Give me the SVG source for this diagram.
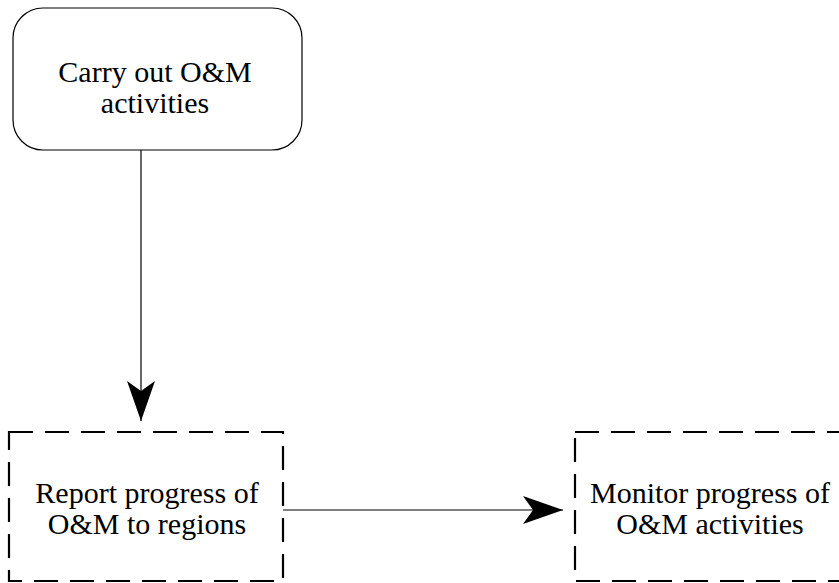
<svg xmlns="http://www.w3.org/2000/svg" width="839" height="583" viewBox="0 0 839 583">
  <style>
    .label { font-family: "Liberation Serif", "Times New Roman", serif; font-size: 30px; fill: #000; text-anchor: middle; }
    .solid { fill: #fff; stroke: #000; stroke-width: 1.2; }
    .dashed { fill: #fff; stroke: #000; stroke-width: 2.2; stroke-dasharray: 24 12; }
    .edge { fill: none; stroke: #000; stroke-width: 1.2; }
  </style>
  <defs>
    <marker id="arrow" markerUnits="userSpaceOnUse" markerWidth="42" markerHeight="30" refX="40" refY="14" orient="auto">
      <path d="M0,0 L40,14 L0,28 L10,14 Z" fill="#000"/>
    </marker>
  </defs>
  <rect width="839" height="583" fill="#fff"/>

  <g id="connectors">
    <line class="edge" x1="141" y1="150" x2="141" y2="421" marker-end="url(#arrow)"/>
    <line class="edge" x1="283" y1="510" x2="563" y2="510" marker-end="url(#arrow)"/>
  </g>

  <g id="carry-out">
    <rect class="solid" x="13" y="8" width="289" height="142" rx="30" ry="30"/>
    <text class="label" x="155" y="82">Carry out O&amp;M</text>
    <text class="label" x="155" y="113">activities</text>
  </g>

  <g id="report-progress">
    <rect class="dashed" x="9" y="432" width="274" height="149"/>
    <text class="label" x="147" y="503">Report progress of</text>
    <text class="label" x="147" y="534">O&amp;M to regions</text>
  </g>

  <g id="monitor-progress">
    <rect class="dashed" x="575" y="432" width="280" height="149"/>
    <text class="label" x="710" y="503">Monitor progress of</text>
    <text class="label" x="710" y="534">O&amp;M activities</text>
  </g>
</svg>
